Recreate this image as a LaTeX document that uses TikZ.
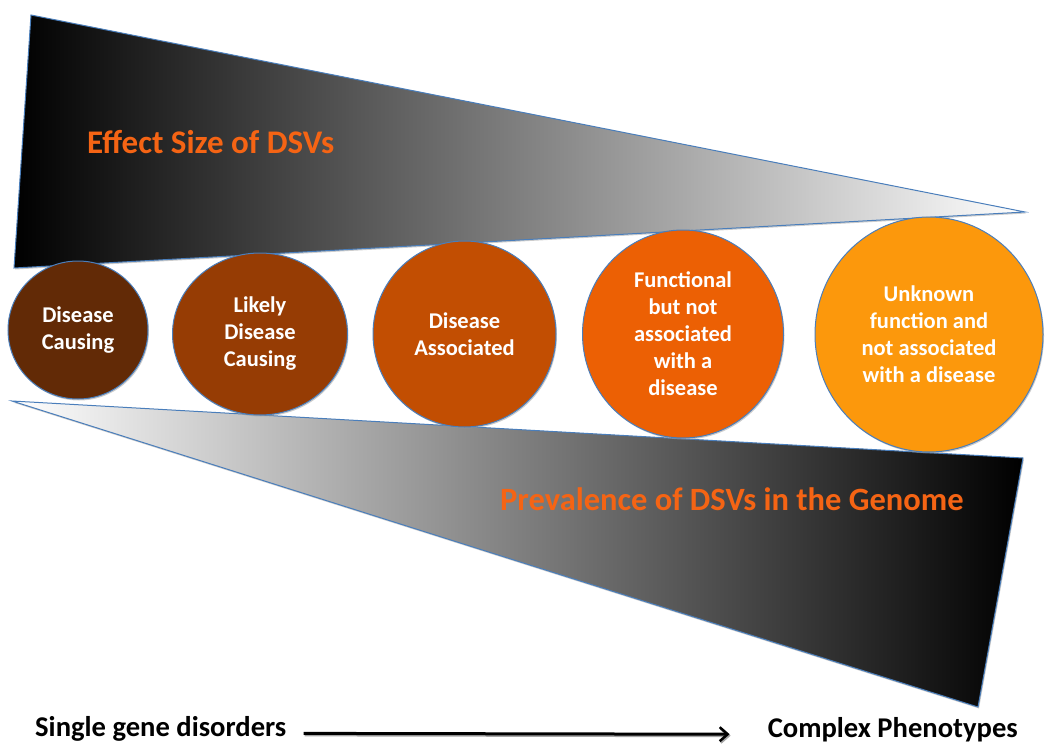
\documentclass[tikz,border=0pt]{standalone}
\usepackage{fontspec}
\setmainfont{Carlito}
\usetikzlibrary{shapes.geometric,shadows,arrows.meta}
\definecolor{edgeblue}{RGB}{74,126,187}
\definecolor{cA}{RGB}{98,42,6}
\definecolor{cB}{RGB}{150,60,4}
\definecolor{cC}{RGB}{194,78,2}
\definecolor{cD}{RGB}{236,96,4}
\definecolor{cE}{RGB}{252,152,12}
\definecolor{titleorange}{RGB}{245,100,20}
\tikzset{
  wedge/.style={draw=edgeblue, line width=1pt, line join=miter,
    drop shadow={shadow xshift=1pt, shadow yshift=-1.5pt, fill=gray!80}},
  bubble/.style={ellipse, draw=edgeblue, line width=1pt, inner sep=0pt,
    text=white, align=center, font=\fontsize{22.5}{27}\selectfont\bfseries,
    drop shadow={shadow xshift=1pt, shadow yshift=-1.5pt, fill=gray!80}},
  title/.style={text=titleorange, font=\fontsize{33}{36}\selectfont\bfseries, inner sep=0pt},
  endlabel/.style={text=black, font=\fontsize{28.6}{30}\selectfont\bfseries, inner sep=0pt},
}
\begin{document}
\begin{tikzpicture}[x=1pt,y=-1pt]
\useasboundingbox (0,0) rectangle (1050,755);
% top wedge
\path[wedge, left color=black, middle color=white!72!black, right color=white]
  (31,15) -- (1025,212) -- (14,268) -- cycle;
% bottom wedge
\path[wedge, left color=white, middle color=white!70!black, right color=black]
  (12,401) -- (1023,458) -- (978,707) -- cycle;
% titles
\node[title, anchor=base west] (effect) at (87,153) {Effect Size of DSVs};
\node[title, anchor=base west, font=\fontsize{32.5}{36}\selectfont\bfseries] (prev) at (500,510) {Prevalence of DSVs in the Genome};
% bubbles
\node[bubble, fill=cA, minimum width=140pt, minimum height=138pt] (b1) at (78,330) {Disease\\Causing};
\node[bubble, fill=cB, minimum width=175pt, minimum height=162pt] (b2) at (260,334) {Likely\\Disease\\Causing};
\node[bubble, fill=cC, minimum width=183pt, minimum height=186pt] (b3) at (464.5,334) {Disease\\Associated};
\node[bubble, fill=cD, minimum width=201pt, minimum height=208pt] (b4) at (683,334) {Functional\\but not\\associated\\with a\\disease};
\node[bubble, fill=cE, minimum width=228pt, minimum height=235pt] (b5) at (929,334.5) {Unknown\\function and\\not associated\\with a disease};
% bottom labels
\node[endlabel, anchor=base west] (single) at (35,736) {Single gene disorders};
\node[endlabel, anchor=base east] (complex) at (1018,737) {Complex Phenotypes};
\draw[line width=3pt, -{Straight Barb[length=8pt,width=14pt,line width=2.5pt]},
  preaction={draw=gray!70, line width=3pt, transform canvas={xshift=1pt,yshift=-1.5pt}}]
  ([xshift=17pt,yshift=-5pt]single.east) -- ([xshift=-38pt,yshift=-5pt]complex.west);
\end{tikzpicture}
\end{document}
